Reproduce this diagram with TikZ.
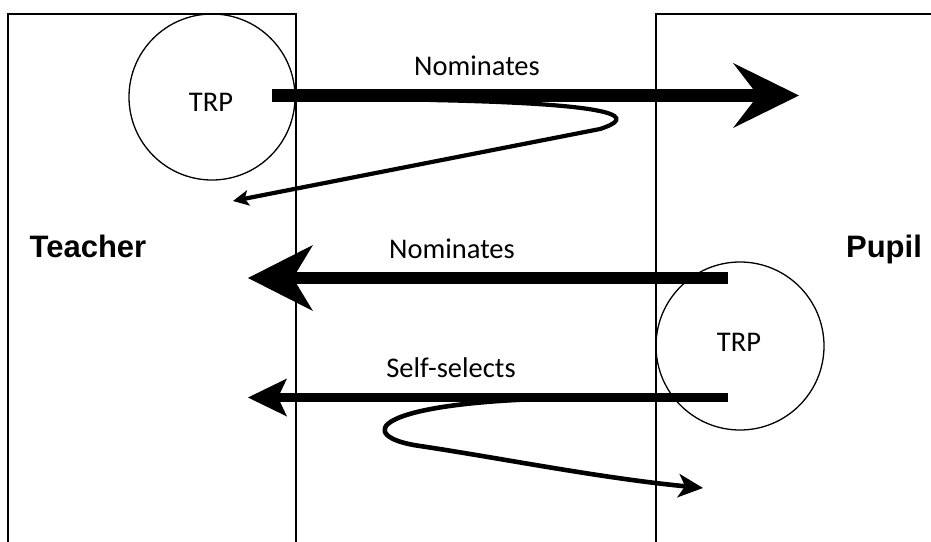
\documentclass[tikz,border=0pt]{standalone}
\usepackage{fontspec}
\setmainfont{Carlito}
\newfontfamily\headfont{Liberation Sans}
\usetikzlibrary{arrows.meta}
\begin{document}
\begin{tikzpicture}[x=1pt,y=-1pt,
  frame/.style={line width=1.3pt},
  ring/.style={draw,circle,line width=1.3pt,minimum size=#1,inner sep=0pt},
  party/.style={font=\headfont\bfseries\fontsize{31}{31}\selectfont,anchor=base,inner sep=0pt},
  lbl/.style={font=\fontsize{28.5}{28.5}\selectfont,anchor=base,inner sep=0pt},
  turnA/.style={line width=13pt,-{Stealth[length=66pt,width=65pt,inset=25pt,line width=0pt]}},
  turnB/.style={line width=12pt,-{Stealth[length=65pt,width=66pt,inset=20pt,line width=0pt]}},
  turnC/.style={line width=8.3pt,-{Stealth[length=39pt,width=38pt,inset=9pt,line width=0pt]}},
  loopA/.style={line width=4.2pt,-{Stealth[length=16pt,width=16pt,inset=4pt,line width=0pt]}},
  loopB/.style={line width=4.6pt,-{Stealth[length=25pt,width=24pt,inset=7pt,line width=0pt]}}
]
\useasboundingbox (0,0) rectangle (931,541);
\clip (0,0) rectangle (931,541);

% the two speaker columns
\draw[frame] (8,560) -- (8,14) -- (296,14) -- (296,560);
\draw[frame] (656,560) -- (656,14) -- (950,14) -- (950,560);

% transition relevance places
\node[ring=166pt] (ringA) at (212,97) {};
\node[ring=168pt] (ringB) at (740,346) {};
\node[lbl] (trpA) at (211,111) {TRP};
\node[lbl] (trpB) at (739,351) {TRP};

% speaker names
\node[party] (teacher) at (88,257) {Teacher};
\node[party] (pupil) at (884,257) {Pupil};

% arrow labels
\node[lbl] (nomA) at (477,75) {Nominates};
\node[lbl] (nomB) at (452,258) {Nominates};
\node[lbl] (self) at (451,377) {Self-selects};

% arrow end points
\coordinate (sA) at (272,95.5);
\coordinate (eA) at (799,95.5);
\coordinate (sB) at (728,278);
\coordinate (eB) at (248,278);
\coordinate (sC) at (728,397.5);
\coordinate (eC) at (248,397.5);
\coordinate (bA) at (430,100);
\coordinate (fA) at (233,201);
\coordinate (bC) at (575,398);
\coordinate (fC) at (703,488);

% turn-allocation arrows
\draw[turnA] (sA) -- (eA);
\draw[turnB] (sB) -- (eB);
\draw[turnC] (sC) -- (eC);

% turns looping back
\draw[loopA] (bA) .. controls (632,104) and (634,118) .. (600,129) -- (fA);
\draw[loopB] (bC) .. controls (365,401) and (355,437) .. (420,446)
  .. controls (500,458) and (600,478) .. (fC);
\end{tikzpicture}
\end{document}
